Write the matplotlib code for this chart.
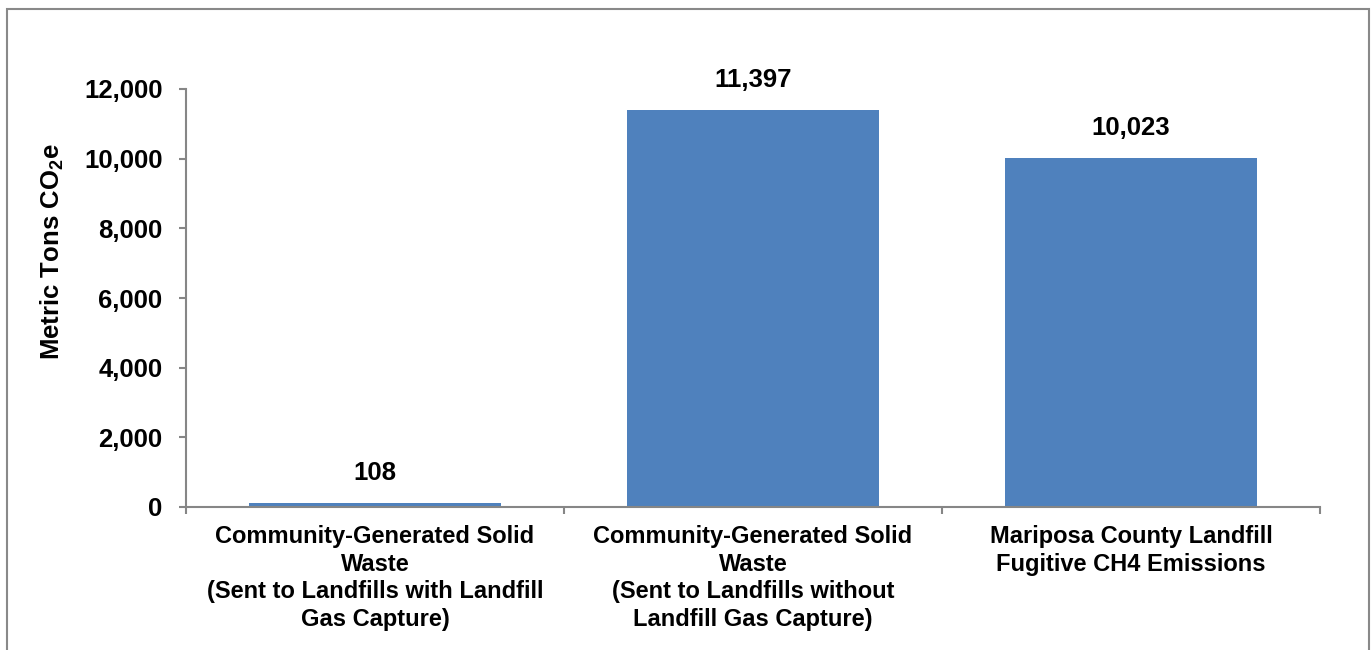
import matplotlib.pyplot as plt
from matplotlib.patches import Rectangle

# ----------------------------------------------------------
# DATA
# ----------------------------------------------------------

categories = [
    "Community-Generated Solid\nWaste\n(Sent to Landfills with Landfill\nGas Capture)",
    "Community-Generated Solid\nWaste\n(Sent to Landfills without\nLandfill Gas Capture)",
    "Mariposa County Landfill\nFugitive CH4 Emissions",
]
emissions = [108, 11397, 10023]
y_ticks = [0, 2000, 4000, 6000, 8000, 10000, 12000]

# ----------------------------------------------------------
# STYLE
# ----------------------------------------------------------

plt.rcParams["font.family"] = ["Liberation Sans", "DejaVu Sans"]
plt.rcParams["font.weight"] = "bold"
plt.rcParams["mathtext.fontset"] = "custom"
plt.rcParams["mathtext.rm"] = "Liberation Sans:bold"
plt.rcParams["mathtext.bf"] = "Liberation Sans:bold"

bar_color = "#4F81BD"
axis_color = "#868686"

fig = plt.figure(figsize=(13.71, 6.5), dpi=100)
ax = fig.add_axes([186 / 1371, 1 - 507 / 650, 1134 / 1371, 418 / 650])

# outer chart-area frame
fig.add_artist(Rectangle((7 / 1371, -0.05), 1362 / 1371, 1 - 9 / 650 + 0.05,
                         transform=fig.transFigure, fill=False,
                         edgecolor="#898989", linewidth=1.5))

x = list(range(len(categories)))
ax.bar(x, emissions, width=2 / 3, color=bar_color, zorder=2)

for xi, v in zip(x, emissions):
    ax.annotate(f"{v:,}", (xi, v), xytext=(0, 13), textcoords="offset points",
                ha="center", va="bottom", fontsize=18.5, fontweight="bold")

ax.set_xlim(-0.5, len(categories) - 0.5)
ax.set_ylim(0, 12000)
ax.set_yticks(y_ticks)
ax.set_yticklabels([f"{t:,}" for t in y_ticks])

# category boundaries get the tick marks, labels sit in the middle
ax.set_xticks([i - 0.5 for i in range(len(categories) + 1)])
ax.set_xticklabels([])
ax.set_xticks(x, minor=True)
ax.set_xticklabels(categories, minor=True, fontsize=17, fontweight="bold",
                   linespacing=1.25)
ax.tick_params(axis="x", which="minor", length=0, pad=13)
ax.tick_params(axis="x", which="major", length=5, width=1.5,
               color=axis_color, direction="out")
ax.tick_params(axis="y", length=5, width=1.5, color=axis_color,
               direction="out", labelsize=18.5, pad=12)

for side in ["top", "right"]:
    ax.spines[side].set_visible(False)
for side in ["left", "bottom"]:
    ax.spines[side].set_color(axis_color)
    ax.spines[side].set_linewidth(1.5)

ax.set_ylabel(r"Metric Tons CO$_{\mathbf{2}}$e", fontsize=18.5,
              fontweight="bold")
ax.yaxis.set_label_coords(-0.106, 0.612)

plt.savefig("out.png", dpi=100)
